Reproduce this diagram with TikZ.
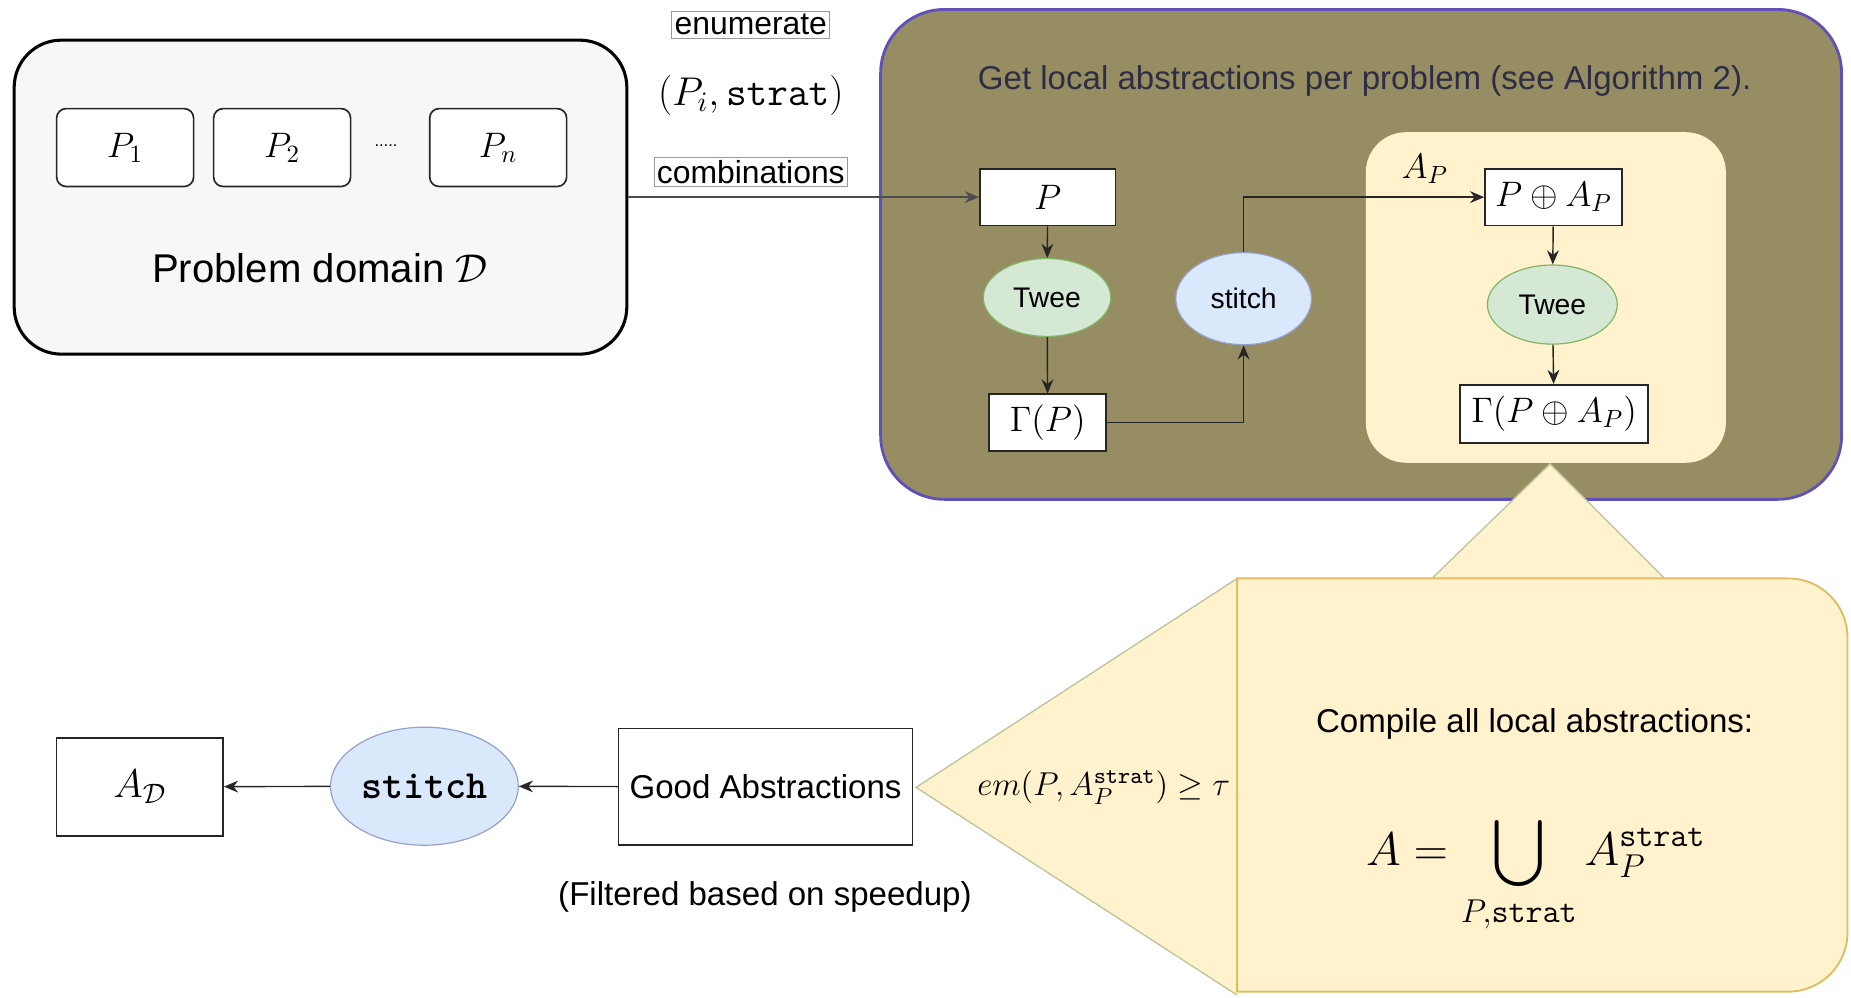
\documentclass[tikz,border=0pt]{standalone}
\usepackage{fix-cm}
\usepackage[no-math]{fontspec}
\setmainfont{Liberation Sans}
\usepackage{amsmath,amssymb}
\usetikzlibrary{arrows.meta,calc,positioning,shapes}

\definecolor{olivefill}{RGB}{150,142,98}
\definecolor{oliveline}{RGB}{96,80,184}
\definecolor{titletext}{RGB}{45,45,70}
\definecolor{notefill}{RGB}{255,242,204}
\definecolor{noteline}{RGB}{222,190,100}
\definecolor{calledge}{RGB}{190,200,160}
\definecolor{tweefill}{RGB}{213,232,212}
\definecolor{tweeline}{RGB}{130,179,102}
\definecolor{stitchfill}{RGB}{218,232,252}
\definecolor{stitchline}{RGB}{150,160,200}

\begin{document}
\begin{tikzpicture}[x=0.5pt,y=-0.5pt,>={Stealth[length=6pt,width=5pt]},
    box/.style={rectangle,draw=black!85,fill=white,line width=0.7pt,inner sep=0pt,font=\fontsize{15}{18}\selectfont},
    pbox/.style={box,rounded corners=4pt,minimum width=58pt,minimum height=33pt},
    twee/.style={ellipse,draw=tweeline,fill=tweefill,line width=0.5pt,inner sep=0pt,minimum width=54pt,minimum height=33pt,font=\fontsize{12}{14}\selectfont},
    stitchnode/.style={ellipse,draw=stitchline,fill=stitchfill,line width=0.5pt,inner sep=0pt},
    tag/.style={rectangle,draw=black!40,fill=white,line width=0.4pt,inner sep=1.2pt,font=\fontsize{13.5}{15}\selectfont},
    flow/.style={->,draw=black!85,line width=0.6pt}]
    \useasboundingbox (0,0) rectangle (1568,845);
    % problem domain
    \node[rectangle,draw=black,fill=black!3,line width=1.3pt,rounded corners=20pt,minimum width=259.5pt,minimum height=133pt] (domain) at (271.5,167) {};
    \node[pbox] (p1) at (106,125) {$P_1$};
    \node[pbox] (p2) at (239,125) {$P_2$};
    \node[font=\fontsize{7}{8}\selectfont] (pdots) at (327,123) {.....};
    \node[pbox] (pn) at (422,125) {$P_n$};
    \node[font=\fontsize{17}{20}\selectfont] (domainlabel) at (271,227) {Problem domain $\mathcal{D}$};
    % local abstractions
    \node[rectangle,draw=oliveline,fill=olivefill,line width=1.2pt,rounded corners=27pt,minimum width=407pt,minimum height=207.5pt] (local) at (1153,215.5) {};
    \node[font=\fontsize{14}{17}\selectfont,text=titletext] (title) at (1156,69) {Get local abstractions per problem (see Algorithm 2).};
    \node[rectangle,fill=notefill,rounded corners=17pt,minimum width=152.5pt,minimum height=140pt] (inner) at (1309.5,252) {};
    \node[font=\fontsize{15}{18}\selectfont] (aplabel) at (1207,143) {$A_P$};
    \node[box,minimum width=57.5pt,minimum height=24pt] (p) at (887.5,167) {$P$};
    \node[twee] (twee1) at (887,252) {Twee};
    \node[box,minimum width=49.5pt,minimum height=24pt] (gp) at (887.5,358) {$\Gamma(P)$};
    \node[stitchnode,minimum width=57.5pt,minimum height=39pt,font=\fontsize{12}{14}\selectfont] (stitch1) at (1053.5,253) {stitch};
    \node[box,minimum width=58pt,minimum height=24pt] (pa) at (1316,167) {$P \oplus A_P$};
    \node[twee,minimum width=55pt,minimum height=33.5pt] (twee2) at (1315,258) {Twee};
    \node[box,minimum width=79.5pt,minimum height=24.5pt] (gpa) at (1316.5,350.5) {$\Gamma(P \oplus A_P)$};
    \draw[flow] (p) -- (twee1);
    \draw[flow] (twee1) -- (gp);
    \draw[flow] (gp.east) -| (stitch1.south);
    \draw[flow] (stitch1.north) |- (pa.west);
    \draw[flow] (pa) -- (twee2);
    \draw[flow] (twee2) -- (gpa);
    % enumerate combinations
    \draw[flow,draw=black!70] (domain.east) -- (p.west);
    \node[tag] (enum) at (636,21) {enumerate};
    \node[font=\fontsize{17}{20}\selectfont] (pair) at (636,81) {$(P_i, \mathtt{strat})$};
    \node[tag] (comb) at (636,146) {combinations};
    % compile callout
    \filldraw[fill=notefill,draw=calledge,line width=0.6pt] (1213,490) -- (1313,393) -- (1410,490);
    \filldraw[fill=notefill,draw=calledge,line width=0.6pt] (1048,490) -- (776,667) -- (1048,843);
    \draw[fill=notefill,draw=noteline,line width=0.8pt] (1048,490) -- (1515,490) arc[start angle=-90,end angle=0,radius=50] -- (1565,790) arc[start angle=0,end angle=90,radius=50] -- (1048,840) -- cycle;
    \node[font=\fontsize{14}{17}\selectfont] (compile) at (1300,613) {Compile all local abstractions:};
    \node[font=\fontsize{20}{24}\selectfont] (union) at (1301,741) {$\displaystyle A = \bigcup_{P,\mathtt{strat}} A_P^{\mathtt{strat}}$};
    \node[font=\fontsize{14}{17}\selectfont] (threshold) at (935,667) {$em(P, A_P^{\mathtt{strat}}) \geq \tau$};
    % global stitch
    \node[box,minimum width=124.5pt,minimum height=49.5pt,font=\fontsize{14}{17}\selectfont] (good) at (648.5,666.5) {Good Abstractions};
    \node[font=\fontsize{14}{17}\selectfont] (filtered) at (648,760) {(Filtered based on speedup)};
    \node[stitchnode,minimum width=79.5pt,minimum height=50pt,font=\fontsize{17}{20}\selectfont] (stitch2) at (359.5,666) {\texttt{\bfseries stitch}};
    \node[box,minimum width=70.5pt,minimum height=41.5pt,font=\fontsize{17}{20}\selectfont] (ad) at (118.5,666.5) {$A_{\mathcal{D}}$};
    \draw[flow] (good) -- (stitch2);
    \draw[flow] (stitch2) -- (ad);
\end{tikzpicture}
\end{document}
